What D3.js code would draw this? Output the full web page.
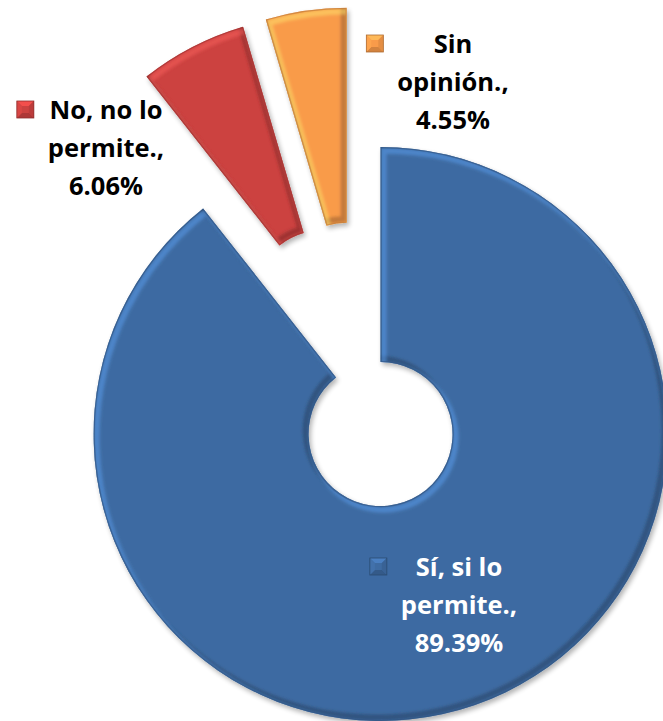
<!DOCTYPE html>
<html>
<head>
<meta charset="utf-8">
<script src="https://cdn.jsdelivr.net/npm/d3@7"></script>
<style>
  html, body { margin: 0; padding: 0; background: #fff; }
  svg { display: block; }
  text { font-family: "Open Sans", Lato, sans-serif; font-weight: 700; }
</style>
</head>
<body>
<svg id="chart" width="663" height="721"></svg>
<script>
// Survey answers and their shares (%)
const categories = ["Sí, si lo permite.", "No, no lo permite.", "Sin opinión."];
const values = [89.39, 6.06, 4.55];
const sliceColors = ["#3e6ba2", "#cc4240", "#f99b4a"];
const labelColors = ["#ffffff", "#000000", "#000000"];

const center = [357, 366];
const outerR = 287, innerR = 72, explode = 72;
// where each data label block is centred (x) and its first baseline (y)
const labelAnchor = [[459, 576], [106, 119], [453, 53]];
const lineH = 38;

const svg = d3.select("#chart");
const defs = svg.append("defs");

const soft = defs.append("filter").attr("id", "soft");
soft.append("feGaussianBlur").attr("stdDeviation", 1.6);

const shadow = defs.append("filter").attr("id", "shadow")
  .attr("x", "-20%").attr("y", "-20%").attr("width", "140%").attr("height", "140%");
shadow.append("feGaussianBlur").attr("in", "SourceAlpha").attr("stdDeviation", 2.5).attr("result", "b");
shadow.append("feOffset").attr("in", "b").attr("dx", 2).attr("dy", 2.5).attr("result", "o");
shadow.append("feComponentTransfer").attr("in", "o").attr("result", "s")
  .append("feFuncA").attr("type", "linear").attr("slope", 0.3);
const sm = shadow.append("feMerge");
sm.append("feMergeNode").attr("in", "s");
sm.append("feMergeNode").attr("in", "SourceGraphic");

const pie = d3.pie().sort(null).value(d => d).startAngle(0).endAngle(2 * Math.PI);
const arcs = pie(values);
const arc = d3.arc().innerRadius(innerR).outerRadius(outerR);

function offset(a) {
  const mid = (a.startAngle + a.endAngle) / 2;
  return [center[0] + explode * Math.sin(mid), center[1] - explode * Math.cos(mid)];
}

// a shape with a soft bevelled rim: light on the upper-left edges, dark on the lower-right
function bevelled(parent, id, d, color, rim) {
  const clip = defs.append("clipPath").attr("id", id);
  clip.append("path").attr("d", d);
  const g = parent.append("g").attr("filter", "url(#shadow)");
  g.append("path").attr("d", d).attr("fill", color);
  const inner = g.append("g").attr("clip-path", `url(#${id})`);
  inner.append("path").attr("d", d)
    .attr("transform", `translate(${-rim * 0.5},${-rim * 0.6})`)
    .attr("fill", "none").attr("stroke", d3.color(color).darker(1.6))
    .attr("stroke-width", rim).attr("stroke-opacity", 0.5).attr("filter", "url(#soft)");
  inner.append("path").attr("d", d)
    .attr("transform", `translate(${rim * 0.5},${rim * 0.6})`)
    .attr("fill", "none").attr("stroke", d3.color(color).brighter(1.2))
    .attr("stroke-width", rim).attr("stroke-opacity", 0.45).attr("filter", "url(#soft)");
  inner.append("path").attr("d", d)
    .attr("fill", "none").attr("stroke", d3.color(color).darker(0.8))
    .attr("stroke-width", 2.5).attr("stroke-opacity", 0.55);
  return g;
}

const rings = svg.append("g");
arcs.forEach((a, i) => {
  const g = rings.append("g").attr("transform", `translate(${offset(a)})`);
  bevelled(g, `slice${i}`, arc(a), sliceColors[i], 6);
});

// data labels: "category, value%" wrapped into short lines, with a legend key
const labels = svg.append("g");
arcs.forEach((a, i) => {
  const g = labels.append("g");
  const words = `${categories[i]}, ${d3.format(".2f")(values[i])}%`.split(" ");
  const t = g.append("text")
    .attr("text-anchor", "middle")
    .attr("font-size", 25.5)
    .attr("fill", labelColors[i]);
  const lines = [];
  let cur = [];
  const probe = t.append("tspan");
  words.forEach(w => {
    const trial = cur.concat(w).join(" ");
    probe.text(trial);
    if (cur.length && probe.node().getComputedTextLength() > 150) {
      lines.push(cur.join(" "));
      cur = [w];
    } else cur.push(w);
  });
  lines.push(cur.join(" "));
  probe.remove();
  const [lx, ly] = labelAnchor[i];
  let widest = 0;
  lines.forEach((ln, k) => {
    const ts = t.append("tspan").attr("x", lx).attr("y", ly + k * lineH).text(ln);
    widest = Math.max(widest, ts.node().getComputedTextLength());
  });
  const ks = 17;
  const kx = lx - widest / 2 - 14 - ks;
  const key = g.append("g").attr("transform", `translate(${kx},${ly - 18})`);
  const kc = sliceColors[i];
  key.append("rect").attr("width", ks).attr("height", ks).attr("fill", kc);
  // pyramid-style facets of the key
  const a1 = 5, a2 = ks - 5;
  const facets = [
    [`M0,0L${ks},0L${a2},${a1}L${a1},${a1}Z`, d3.color(kc).brighter(0.6)],
    [`M0,${ks}L${ks},${ks}L${a2},${a2}L${a1},${a2}Z`, d3.color(kc).darker(0.6)],
    [`M0,0L${a1},${a1}L${a1},${a2}L0,${ks}Z`, d3.color(kc).brighter(0.2)],
    [`M${ks},0L${a2},${a1}L${a2},${a2}L${ks},${ks}Z`, d3.color(kc).darker(0.3)]
  ];
  facets.forEach(([p, c]) => key.append("path").attr("d", p).attr("fill", c).attr("opacity", 0.8));
  key.append("rect").attr("width", ks).attr("height", ks).attr("fill", "none")
    .attr("stroke", d3.color(kc).darker(1)).attr("stroke-width", 0.8);
});
</script>
</body>
</html>
